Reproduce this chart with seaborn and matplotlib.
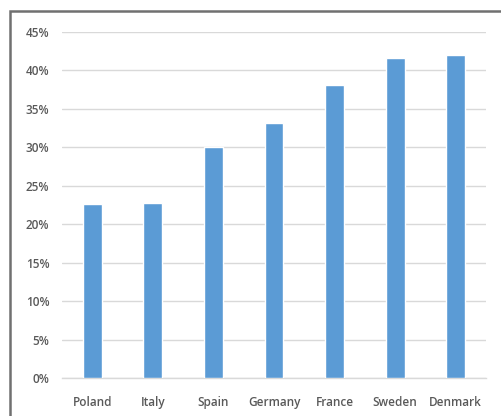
import matplotlib
matplotlib.use("Agg")
import matplotlib.pyplot as plt
import seaborn as sns
import pandas as pd
from matplotlib.patches import Rectangle
from matplotlib.ticker import PercentFormatter

countries = ["Poland", "Italy", "Spain", "Germany", "France", "Sweden", "Denmark"]
shares = [0.226, 0.228, 0.300, 0.332, 0.381, 0.416, 0.420]
y_ticks = [0.00, 0.05, 0.10, 0.15, 0.20, 0.25, 0.30, 0.35, 0.40, 0.45]

df = pd.DataFrame({"Country": countries, "Share": shares})

sns.set_style("white")
plt.rcParams["font.family"] = ["Open Sans", "DejaVu Sans"]

fig = plt.figure(figsize=(5.02, 4.16), dpi=100)
ax = fig.add_axes([0.1235, 0.0913, 0.8446, 0.8317])

sns.barplot(data=df, x="Country", y="Share", color="#5B9BD5",
            width=0.31, saturation=1, ax=ax, zorder=3)

ax.set_ylim(0, 0.45)
ax.set_yticks(y_ticks)
ax.yaxis.set_major_formatter(PercentFormatter(1.0, decimals=0))
ax.yaxis.grid(True, color="#D9D9D9", linewidth=1)
ax.set_axisbelow(True)
ax.set_xlabel("")
ax.set_ylabel("")

for side in ["top", "right", "left"]:
    ax.spines[side].set_visible(False)
ax.spines["bottom"].set_color("#D9D9D9")
ax.spines["bottom"].set_linewidth(1)

ax.tick_params(axis="both", length=0, labelsize=8.5, labelcolor="#595959")
ax.tick_params(axis="y", pad=9)
ax.tick_params(axis="x", pad=13)
for lbl in ax.get_xticklabels() + ax.get_yticklabels():
    lbl.set_fontweight("semibold")

# chart frame (only left and top edges fall inside the picture)
fig.patches.append(Rectangle((9.5 / 502, -0.1), 1.2, (405 / 416) + 0.1,
                             transform=fig.transFigure, fill=False,
                             edgecolor="#707070", linewidth=1.8))

fig.savefig("out.png", dpi=100)
